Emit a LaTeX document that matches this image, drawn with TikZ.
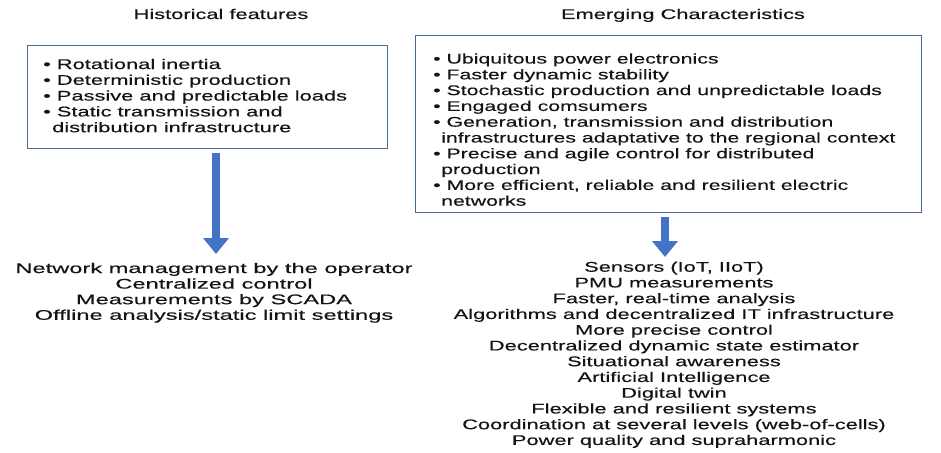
\documentclass[tikz,border=0pt]{standalone}
\usepackage{fontspec}
\setmainfont{Liberation Sans}[FakeStretch=1.56,FakeBold=0.35]
\newfontfamily\rboxfont{Liberation Sans}[FakeStretch=1.52,FakeBold=0.35]
\newfontfamily\lbotfont{Liberation Sans}[FakeStretch=1.69,FakeBold=0.35]
\usetikzlibrary{arrows.meta}
\definecolor{boxblue}{HTML}{4A6A9A}
\definecolor{arrowblue}{HTML}{4472C4}
\definecolor{txt}{HTML}{141414}
\begin{document}
\begin{tikzpicture}[x=1pt,y=-1pt,
  every node/.style={font=\fontsize{14}{16}\selectfont, text=txt, inner sep=0pt},
  boxframe/.style={draw=boxblue, line width=1.3pt, anchor=north west},
  lline/.style={anchor=base west},
  rline/.style={anchor=base west, font=\fontsize{14}{16}\rboxfont},
  cline/.style={anchor=base},
  bline/.style={anchor=base, font=\fontsize{14}{16}\lbotfont},
  bigarrow/.style={draw=arrowblue, line width=8pt, -{Triangle[width=25pt,length=16pt]}, shorten <=4pt}]
\path[use as bounding box] (0,0) rectangle (941,452);
% titles
\node[cline] (t1) at (221,19) {Historical features};
\node[cline] (t2) at (683,19) {Emerging Characteristics};
% boxes
\node[boxframe, minimum width=360pt, minimum height=103pt] (lbox) at (27,45) {};
\node[boxframe, minimum width=506pt, minimum height=177pt] (rbox) at (415,35) {};
% left box text
\node[lline] (l1) at (43,69) {• Rotational inertia};
\node[lline] (l2) at (43,84.8) {• Deterministic production};
\node[lline] (l3) at (43,100.6) {• Passive and predictable loads};
\node[lline] (l4) at (43,116.4) {• Static transmission and};
\node[lline] (l5) at (52,132.2) {distribution infrastructure};
% right box text
\node[rline] (r1) at (433,63.5) {• Ubiquitous power electronics};
\node[rline] (r2) at (433,79.3) {• Faster dynamic stability};
\node[rline] (r3) at (433,95.1) {• Stochastic production and unpredictable loads};
\node[rline] (r4) at (433,110.9) {• Engaged comsumers};
\node[rline] (r5) at (433,126.7) {• Generation, transmission and distribution};
\node[rline] (r6) at (441,142.5) {infrastructures adaptative to the regional context};
\node[rline] (r7) at (433,158.3) {• Precise and agile control for distributed};
\node[rline] (r8) at (441,174.1) {production};
\node[rline] (r9) at (433,189.9) {• More efficient, reliable and resilient electric};
\node[rline] (r10) at (441,205.7) {networks};
% left results
\node[bline] (b1) at (214,273) {Network management by the operator};
\node[bline] (b2) at (214,288.6) {Centralized control};
\node[bline] (b3) at (214,304.2) {Measurements by SCADA};
\node[bline] (b4) at (214,319.8) {Offline analysis/static limit settings};
% right results
\node[cline] (c1) at (674,271.7) {Sensors (IoT, IIoT)};
\node[cline] (c2) at (674,287.45) {PMU measurements};
\node[cline] (c3) at (674,303.2) {Faster, real-time analysis};
\node[cline] (c4) at (674,318.95) {Algorithms and decentralized IT infrastructure};
\node[cline] (c5) at (674,334.7) {More precise control};
\node[cline] (c6) at (674,350.45) {Decentralized dynamic state estimator};
\node[cline] (c7) at (674,366.2) {Situational awareness};
\node[cline] (c8) at (674,381.95) {Artificial Intelligence};
\node[cline] (c9) at (674,397.7) {Digital twin};
\node[cline] (c10) at (674,413.45) {Flexible and resilient systems};
\node[cline] (c11) at (674,429.2) {Coordination at several levels (web-of-cells)};
\node[cline] (c12) at (674,444.95) {Power quality and supraharmonic};
% arrows
\coordinate (la) at (216,254);
\coordinate (ra) at (665,257);
\draw[bigarrow] (lbox.south -| la) -- (la);
\draw[bigarrow] (rbox.south -| ra) -- (ra);
\end{tikzpicture}
\end{document}
